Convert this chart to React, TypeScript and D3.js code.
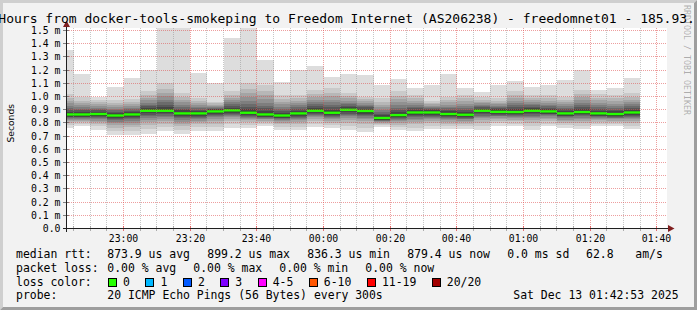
import React from 'react';
import * as d3 from 'd3';

const W = 697;
const H = 310;

const graphStart = '2025-12-12T22:42:53';
const graphEnd = '2025-12-13T01:42:53';

const titleText =
  '3 Hours from docker-tools-smokeping to Freedom Internet (AS206238) - freedomnet01 - 185.93.';

// end time of every 5-minute step
const barEnds = [
  '22:45', '22:50', '22:55', '23:00', '23:05', '23:10', '23:15', '23:20', '23:25', '23:30',
  '23:35', '23:40', '23:45', '23:50', '23:55', '00:00', '00:05', '00:10', '00:15', '00:20',
  '00:25', '00:30', '00:35', '00:40', '00:45', '00:50', '00:55', '01:00', '01:05', '01:10',
  '01:15', '01:20', '01:25', '01:30', '01:35',
];

// median rtt (ms)
const medians = [
  0.864, 0.864, 0.867, 0.856, 0.864, 0.892, 0.892, 0.872, 0.872, 0.887,
  0.895, 0.877, 0.864, 0.856, 0.872, 0.892, 0.877, 0.899, 0.890, 0.837,
  0.859, 0.879, 0.879, 0.867, 0.862, 0.892, 0.884, 0.882, 0.892, 0.887,
  0.872, 0.882, 0.872, 0.867, 0.879,
];

// 20 sorted ping times (ms) per step
const pings = [
  [0.765, 0.784, 0.800, 0.812, 0.822, 0.829, 0.836, 0.842, 0.848, 0.852, 0.874, 0.886, 0.899, 0.914, 0.930, 0.948, 0.968, 0.992, 1.021, 1.356],
  [0.773, 0.790, 0.805, 0.816, 0.824, 0.831, 0.838, 0.843, 0.848, 0.852, 0.874, 0.884, 0.894, 0.906, 0.919, 0.934, 0.950, 0.969, 0.993, 1.173],
  [0.750, 0.773, 0.792, 0.807, 0.818, 0.828, 0.836, 0.843, 0.850, 0.855, 0.877, 0.885, 0.894, 0.904, 0.915, 0.927, 0.940, 0.956, 0.976, 0.993],
  [0.709, 0.739, 0.763, 0.782, 0.797, 0.809, 0.820, 0.829, 0.837, 0.844, 0.866, 0.875, 0.885, 0.896, 0.908, 0.921, 0.936, 0.954, 0.976, 1.074],
  [0.709, 0.740, 0.766, 0.786, 0.802, 0.815, 0.826, 0.836, 0.845, 0.852, 0.874, 0.883, 0.893, 0.903, 0.915, 0.929, 0.944, 0.961, 0.983, 1.143],
  [0.715, 0.751, 0.781, 0.804, 0.822, 0.837, 0.850, 0.862, 0.872, 0.880, 0.902, 0.913, 0.925, 0.939, 0.954, 0.971, 0.990, 1.012, 1.040, 1.204],
  [0.735, 0.767, 0.793, 0.813, 0.829, 0.842, 0.854, 0.864, 0.873, 0.880, 0.902, 0.918, 0.936, 0.955, 0.977, 1.001, 1.029, 1.060, 1.100, 1.550],
  [0.717, 0.748, 0.774, 0.794, 0.810, 0.823, 0.834, 0.844, 0.853, 0.860, 0.882, 0.894, 0.907, 0.921, 0.937, 0.955, 0.975, 0.998, 1.027, 1.550],
  [0.740, 0.766, 0.788, 0.805, 0.818, 0.830, 0.838, 0.847, 0.854, 0.860, 0.882, 0.890, 0.900, 0.910, 0.921, 0.934, 0.948, 0.964, 0.985, 1.181],
  [0.738, 0.768, 0.793, 0.812, 0.827, 0.841, 0.850, 0.860, 0.868, 0.875, 0.897, 0.902, 0.908, 0.914, 0.921, 0.929, 0.937, 0.947, 0.960, 1.100],
  [0.765, 0.791, 0.812, 0.829, 0.842, 0.852, 0.862, 0.870, 0.877, 0.883, 0.905, 0.916, 0.928, 0.941, 0.956, 0.973, 0.991, 1.013, 1.040, 1.440],
  [0.765, 0.787, 0.805, 0.819, 0.830, 0.840, 0.847, 0.854, 0.860, 0.865, 0.887, 0.904, 0.923, 0.945, 0.968, 0.994, 1.023, 1.057, 1.100, 1.550],
  [0.778, 0.794, 0.808, 0.818, 0.826, 0.833, 0.839, 0.844, 0.848, 0.852, 0.874, 0.891, 0.910, 0.931, 0.954, 0.980, 1.009, 1.043, 1.085, 1.275],
  [0.750, 0.771, 0.788, 0.801, 0.811, 0.820, 0.827, 0.834, 0.839, 0.844, 0.866, 0.878, 0.891, 0.906, 0.922, 0.940, 0.961, 0.984, 1.014, 1.110],
  [0.745, 0.770, 0.791, 0.807, 0.820, 0.830, 0.839, 0.847, 0.854, 0.860, 0.882, 0.893, 0.904, 0.918, 0.932, 0.948, 0.966, 0.988, 1.014, 1.204],
  [0.770, 0.794, 0.814, 0.829, 0.842, 0.852, 0.860, 0.868, 0.875, 0.880, 0.902, 0.914, 0.928, 0.943, 0.959, 0.977, 0.998, 1.022, 1.052, 1.234],
  [0.758, 0.782, 0.801, 0.816, 0.828, 0.838, 0.846, 0.853, 0.860, 0.865, 0.887, 0.901, 0.917, 0.935, 0.955, 0.976, 1.001, 1.029, 1.065, 1.146],
  [0.744, 0.775, 0.801, 0.821, 0.837, 0.851, 0.861, 0.871, 0.880, 0.887, 0.909, 0.918, 0.929, 0.941, 0.954, 0.968, 0.985, 1.003, 1.027, 1.173],
  [0.732, 0.764, 0.790, 0.811, 0.827, 0.840, 0.852, 0.862, 0.871, 0.878, 0.900, 0.908, 0.917, 0.927, 0.938, 0.950, 0.964, 0.980, 1.000, 1.166],
  [0.770, 0.782, 0.792, 0.800, 0.806, 0.811, 0.815, 0.819, 0.822, 0.825, 0.847, 0.858, 0.871, 0.885, 0.901, 0.918, 0.937, 0.960, 0.988, 1.090],
  [0.745, 0.767, 0.786, 0.800, 0.811, 0.821, 0.829, 0.836, 0.842, 0.847, 0.869, 0.883, 0.898, 0.915, 0.934, 0.955, 0.978, 1.006, 1.040, 1.135],
  [0.735, 0.764, 0.788, 0.806, 0.821, 0.833, 0.843, 0.852, 0.860, 0.867, 0.889, 0.899, 0.910, 0.923, 0.937, 0.952, 0.969, 0.989, 1.014, 1.067],
  [0.755, 0.780, 0.800, 0.815, 0.828, 0.839, 0.847, 0.855, 0.861, 0.867, 0.889, 0.895, 0.902, 0.910, 0.919, 0.929, 0.940, 0.952, 0.968, 1.085],
  [0.755, 0.777, 0.795, 0.809, 0.820, 0.829, 0.837, 0.844, 0.850, 0.855, 0.877, 0.887, 0.898, 0.910, 0.924, 0.939, 0.956, 0.975, 1.000, 1.173],
  [0.757, 0.777, 0.794, 0.807, 0.817, 0.826, 0.833, 0.840, 0.845, 0.850, 0.872, 0.883, 0.896, 0.910, 0.926, 0.943, 0.963, 0.986, 1.014, 1.067],
  [0.748, 0.777, 0.801, 0.819, 0.834, 0.846, 0.856, 0.865, 0.873, 0.880, 0.902, 0.909, 0.917, 0.927, 0.937, 0.948, 0.960, 0.975, 0.993, 1.037],
  [0.780, 0.800, 0.817, 0.830, 0.840, 0.849, 0.855, 0.862, 0.867, 0.872, 0.894, 0.902, 0.910, 0.919, 0.930, 0.941, 0.954, 0.969, 0.988, 1.090],
  [0.773, 0.794, 0.812, 0.825, 0.836, 0.845, 0.853, 0.859, 0.865, 0.870, 0.892, 0.904, 0.917, 0.932, 0.948, 0.966, 0.987, 1.010, 1.040, 1.120],
  [0.748, 0.777, 0.801, 0.819, 0.834, 0.846, 0.856, 0.865, 0.873, 0.880, 0.902, 0.911, 0.921, 0.932, 0.945, 0.958, 0.974, 0.992, 1.014, 1.074],
  [0.773, 0.795, 0.814, 0.828, 0.839, 0.849, 0.857, 0.864, 0.870, 0.875, 0.897, 0.906, 0.916, 0.927, 0.939, 0.953, 0.968, 0.986, 1.008, 1.090],
  [0.760, 0.782, 0.800, 0.814, 0.825, 0.834, 0.842, 0.849, 0.855, 0.860, 0.882, 0.891, 0.902, 0.914, 0.927, 0.941, 0.958, 0.976, 1.000, 1.128],
  [0.755, 0.780, 0.801, 0.817, 0.830, 0.840, 0.849, 0.857, 0.864, 0.870, 0.892, 0.905, 0.919, 0.935, 0.953, 0.972, 0.994, 1.020, 1.052, 1.200],
  [0.773, 0.792, 0.808, 0.820, 0.830, 0.838, 0.844, 0.850, 0.856, 0.860, 0.882, 0.893, 0.905, 0.919, 0.934, 0.951, 0.970, 0.992, 1.019, 1.050],
  [0.773, 0.791, 0.806, 0.817, 0.826, 0.834, 0.840, 0.846, 0.851, 0.855, 0.877, 0.888, 0.900, 0.914, 0.929, 0.946, 0.965, 0.987, 1.014, 1.067],
  [0.755, 0.780, 0.800, 0.815, 0.828, 0.839, 0.847, 0.855, 0.861, 0.867, 0.889, 0.900, 0.912, 0.926, 0.941, 0.958, 0.977, 0.999, 1.027, 1.143],
];

const yTicks = [0, 0.1, 0.2, 0.3, 0.4, 0.5, 0.6, 0.7, 0.8, 0.9, 1.0, 1.1, 1.2, 1.3, 1.4, 1.5];

const rttLegend = [
  { text: '873.9 us avg', x: 107.3 },
  { text: '899.2 us max', x: 207.3 },
  { text: '836.3 us min', x: 307.3 },
  { text: '879.4 us now', x: 407.3 },
  { text: '0.0 ms sd', x: 507.3 },
  { text: '62.8', x: 586 },
  { text: 'am/s', x: 635.3 },
];
const lossLegend = [
  { text: '0.00 % avg', x: 107.3 },
  { text: '0.00 % max', x: 193.3 },
  { text: '0.00 % min', x: 279.3 },
  { text: '0.00 % now', x: 365.3 },
];
const lossColorLabels = ['0', '1', '2', '3', '4-5', '6-10', '11-19', '20/20'];
const lossColorValues = ['#26ff00', '#00b8ff', '#0059ff', '#7e00ff', '#ff00ff', '#ff5500', '#ff0000', '#a10000'];
const probeText = '20 ICMP Echo Pings (56 Bytes) every 300s';
const dateText = 'Sat Dec 13 01:42:53 2025';

const MONO = '"DejaVu Sans Mono", monospace';

function toDate(hm: string) {
  const [h, m] = hm.split(':').map(Number);
  return new Date(2025, 11, h >= 12 ? 12 : 13, h, m, 0);
}

export default function App() {
  const start = new Date(graphStart);
  const end = new Date(graphEnd);
  const x = d3.scaleTime().domain([start, end]).range([66.5, 666.5]);
  const y = d3.scaleLinear().domain([0, 1.5]).range([228.5, 30.5]);
  const crisp = (v: number) => Math.floor(v) + 0.5;

  const bars = barEnds.map((hm, i) => {
    const e = toDate(hm);
    const s = new Date(Math.max(+start, +e - 300000));
    return { x0: Math.round(x(s)), x1: Math.round(x(e)), p: pings[i], m: medians[i] };
  });

  const gridTimes = d3.timeMinute.every(5)!.range(start, end);
  const fmt = d3.timeFormat('%H:%M');

  const layers = d3.range(10);
  const cw = 6.89; // legend char width

  let lx = 108.5;
  const lossItems = lossColorLabels.map((lab, i) => {
    const it = { lab, col: lossColorValues[i], x: lx };
    lx += 14.6 + lab.length * cw + 15.9;
    return it;
  });

  const b = 3;
  return (
    <svg width={W} height={H} style={{ display: 'block', position: 'absolute', left: 0, top: 0 }}>
      <defs>
        <clipPath id="plotclip">
          <rect x={66} y={28} width={601} height={201} />
        </clipPath>
      </defs>
      <rect x={0} y={0} width={W} height={H} fill="#f2f2f2" />
      <polygon points={`0,0 ${W},0 ${W - b},${b} ${b},${b} ${b},${H - b} 0,${H}`} fill="#cfcfcf" />
      <polygon points={`${W},0 ${W},${H} 0,${H} ${b},${H - b} ${W - b},${H - b} ${W - b},${b}`} fill="#9e9e9e" />

      <rect x={66} y={28} width={601} height={201} fill="#ffffff" />

      <g clipPath="url(#plotclip)" shapeRendering="crispEdges">
        {layers.map((li) => {
          const g = Math.floor((190 / 10) * (10 - (li + 1))) + 50;
          const col = `rgb(${g},${g},${g})`;
          return (
            <g key={li}>
              {bars.map((bar, i) => {
                const yt = Math.round(y(bar.p[19 - li]));
                const yb = Math.round(y(bar.p[li]));
                return <rect key={i} x={bar.x0} y={yt} width={bar.x1 - bar.x0} height={Math.max(0, yb - yt)} fill={col} />;
              })}
            </g>
          );
        })}
      </g>
      <g>
        {bars.map((bar, i) => (
          <rect key={i} x={bar.x0} y={y(bar.m) - 1.2} width={bar.x1 - bar.x0} height={2.4} fill="#26ff00" />
        ))}
      </g>

      <g shapeRendering="crispEdges">
        {gridTimes.map((t, i) => {
          const major = t.getMinutes() % 20 === 0;
          const xx = crisp(x(t));
          return (
            <line key={'v' + i} x1={xx} x2={xx} y1={28} y2={228} stroke={major ? 'rgba(222,79,79,0.55)' : 'rgba(143,143,143,0.5)'} strokeDasharray="1,1" />
          );
        })}
        {yTicks.slice(1).map((v, i) => {
          const yy = crisp(y(v));
          return <line key={'h' + i} x1={67} x2={667} y1={yy} y2={yy} stroke="rgba(222,79,79,0.55)" strokeDasharray="1,1" />;
        })}
        {gridTimes.map((t, i) => {
          const major = t.getMinutes() % 20 === 0;
          const xx = crisp(x(t));
          return <line key={'vt' + i} x1={xx} x2={xx} y1={226} y2={231} stroke={major ? 'rgba(222,79,79,0.8)' : 'rgba(143,143,143,0.7)'} />;
        })}
        {yTicks.map((v, i) => {
          const yy = crisp(y(v));
          return <line key={'yt' + i} x1={63} x2={69} y1={yy} y2={yy} stroke="rgba(100,100,100,0.8)" />;
        })}
      </g>

      <g shapeRendering="crispEdges">
        <line x1={62.5} x2={669} y1={228.5} y2={228.5} stroke="#1f1f1f" />
        <line x1={66.5} x2={66.5} y1={231.5} y2={26} stroke="#1f1f1f" />
      </g>
      <polygon points="66.5,20.5 63,27 70,27" fill="#801f1f" />
      <polygon points="674.5,228.5 668,225 668,232" fill="#801f1f" />

      <g fontFamily={MONO} fontSize={9.8} fill="#000">
        {yTicks.map((v, i) => (
          <text key={i} x={60.5} y={y(v) + 3.5} textAnchor="end" xmlSpace="preserve">
            {v === 0 ? '0.0' : v.toFixed(1) + ' m'}
          </text>
        ))}
        {gridTimes
          .filter((t) => t.getMinutes() % 20 === 0)
          .map((t, i) => (
            <text key={'x' + i} x={crisp(x(t))} y={241.5} textAnchor="middle">
              {fmt(t)}
            </text>
          ))}
      </g>
      <text
        transform="translate(13.5,123.3) rotate(-90)"
        textAnchor="middle"
        fontFamily='"DejaVu Sans", sans-serif'
        fontSize={9.2}
        fill="#000"
      >
        Seconds
      </text>

      <text x={-17.3} y={23} fontFamily={MONO} fontSize={13} fill="#000">
        {titleText}
      </text>

      <text
        transform="translate(683.5,5) rotate(90)"
        fontFamily={MONO}
        fontSize={8.3}
        fill="rgba(0,0,0,0.3)"
      >
        RRDTOOL / TOBI OETIKER
      </text>

      <g fontFamily={MONO} fontSize={11.44} fill="#000">
        <text x={16} y={257.7}>median rtt:</text>
        {rttLegend.map((d, i) => (
          <text key={i} x={d.x} y={257.7}>{d.text}</text>
        ))}
        <text x={16} y={271.7}>packet loss:</text>
        {lossLegend.map((d, i) => (
          <text key={i} x={d.x} y={271.7}>{d.text}</text>
        ))}
        <text x={16} y={285.6}>loss color:</text>
        {lossItems.map((d, i) => (
          <g key={i}>
            <rect x={d.x} y={278.5} width={8} height={8} fill={d.col} stroke="#000" strokeWidth={1} shapeRendering="crispEdges" />
            <text x={d.x + 14.6} y={285.6}>{d.lab}</text>
          </g>
        ))}
        <text x={16} y={299.4}>probe:</text>
        <text x={107.3} y={299.4}>{probeText}</text>
        <text x={513.3} y={299.4}>{dateText}</text>
      </g>
    </svg>
  );
}
